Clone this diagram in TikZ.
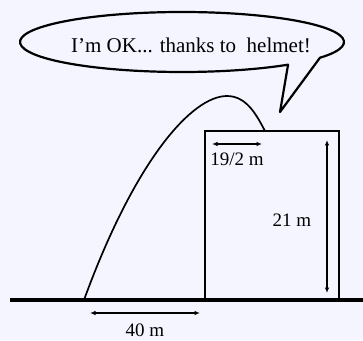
\documentclass[tikz,border=0pt]{standalone}
\usepackage{fontspec}
\setmainfont{Liberation Serif}
\usetikzlibrary{arrows.meta,calc}
\tikzset{
  dim/.style={line width=1.3pt,{Latex[length=5.5pt,width=4.5pt]}-{Latex[length=5.5pt,width=4.5pt]}},
  lbl/.style={inner sep=0pt,font=\fontsize{19}{22}\selectfont},
  thin/.style={line width=1.7pt}
}
\begin{document}
\begin{tikzpicture}[x=1pt,y=1pt]
\useasboundingbox (0,0) rectangle (363,340);
\fill[white!96!blue] (0,0) rectangle (363,340);
% ground
\draw[line width=3.8pt] (10,40) -- (363,40);
% building
\draw[thin] (205,40) -- (205,209) -- (339,209) -- (339,40);
% trajectory
\coordinate (launch) at (84,40);
\coordinate (peak) at (227,244);
\coordinate (land) at (265,209);
\draw[thin] (launch) .. controls (135,180) and (192,244) .. (peak)
  .. controls (247,244) and (257,224) .. (land);
% speech bubble
\coordinate (tip) at (280,228);
\draw[line width=2.2pt,line join=round]
  ($(182,298)+(-31.6:162 and 30)$) arc[start angle=-31.6, end angle=310.9, x radius=162, y radius=30]
  -- (tip) -- cycle;
\node[font=\fontsize{21}{24}\selectfont, inner sep=0pt] (say) at (191,295) {I'm OK... thanks to\ \ helmet!};
% dimensions
\coordinate (a1) at (212,196); \coordinate (a2) at (262,196);
\draw[dim] (a1) -- (a2);
\node[lbl] (w) at (237,181) {19/2 m};
\coordinate (h1) at (327,200); \coordinate (h2) at (327,47);
\draw[dim] (h1) -- (h2);
\node[lbl] (h) at (292,120) {21 m};
\coordinate (d1) at (90,27); \coordinate (d2) at (200,27);
\draw[dim] (d1) -- (d2);
\node[lbl] (d) at (145,10) {40 m};
\end{tikzpicture}
\end{document}
